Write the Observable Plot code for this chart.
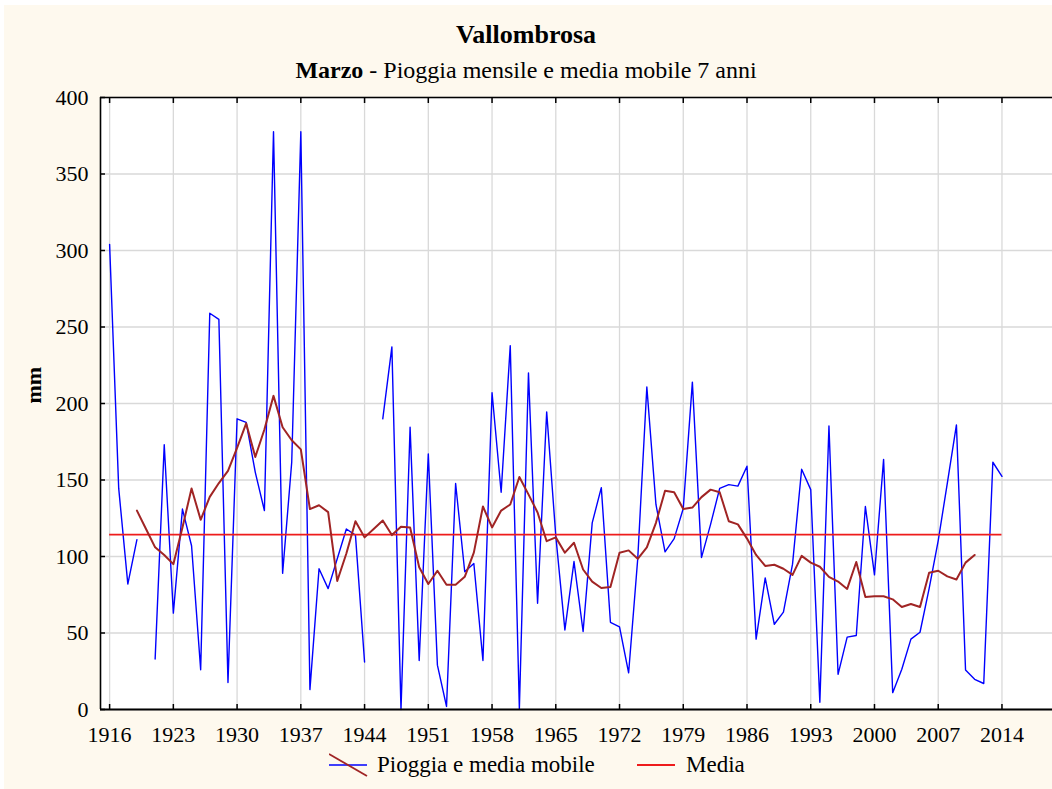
<!DOCTYPE html>
<html>
<head>
<meta charset="utf-8">
<script src="https://cdn.jsdelivr.net/npm/d3@7"></script>
<script src="https://cdn.jsdelivr.net/npm/@observablehq/plot@0.6"></script>
<style>
  body { margin: 0; background: #fff; }
  #wrap { position: relative; width: 1052px; height: 789px; background: #fff; overflow: hidden;
          font-family: "Liberation Serif", "Times New Roman", serif; color: #000; }
  #panel { position: absolute; left: 4px; top: 5px; width: 1048px; height: 784px; background: #fef9ee; }
  .t { position: absolute; left: 0; width: 1052px; text-align: center; white-space: nowrap; }
  #title { top: 22px; font-size: 26px; line-height: 26px; font-weight: bold; }
  #subtitle { top: 58px; font-size: 24px; line-height: 24px; }
  #chart { position: absolute; left: 0; top: 85px; }
  .lg { position: absolute; white-space: nowrap; font-size: 23px; line-height: 23px; top: 753px; }
  .sym { position: absolute; top: 753px; }
</style>
</head>
<body>
<div id="wrap">
  <div id="panel"></div>
  <div id="title" class="t">Vallombrosa</div>
  <div id="subtitle" class="t"><b>Marzo</b> - Pioggia mensile e media mobile 7 anni</div>
  <div id="chart"></div>
  <svg class="sym" style="left:329px" width="40" height="24">
    <line x1="0" y1="12" x2="38" y2="12" stroke="#0000ff" stroke-width="1.6"/>
    <line x1="0" y1="1" x2="38" y2="23" stroke="#a02424" stroke-width="1.8"/>
  </svg>
  <div class="lg" style="left:377px">Pioggia e media mobile</div>
  <svg class="sym" style="left:637px" width="40" height="24">
    <line x1="0" y1="12" x2="38" y2="12" stroke="#ee1c1c" stroke-width="1.8"/>
  </svg>
  <div class="lg" style="left:686px">Media</div>
</div>
<script>
// ---- data ----
const firstYear = 1916;
// March monthly rainfall (mm), 1916..2014 (null = missing year)
const rain = [
  304, 144.5, 82, 111, null, 33, 173, 63, 131, 107,
  26, 259, 255, 17.6, 190, 187.6, 155, 130, 377.6, 89,
  161.6, 377.6, 13, 92, 79, 98.5, 118, 114, 31, null,
  190, 237, 0, 184.5, 32, 167, 29, 2, 147.7, 90,
  95.4, 32, 207, 142, 237.8, 0.5, 220, 69.4, 194.5, 113.5,
  52, 96.7, 51, 122, 145, 57, 54, 24, 98.5, 210.8,
  134, 103, 111.7, 131.4, 214, 99.3, 121, 144.5, 147, 146,
  159, 46, 86, 55.7, 63.6, 95, 157, 143.7, 4.7, 185.3,
  23, 47.3, 48.4, 132.7, 88, 163.5, 11, 26.3, 46, 50.5,
  79, 110.4, 148, 186, 25.8, 19.7, 17, 161.6, 152.4
];
// 7-year moving average, 1919..2011
const maStart = 1919;
const movingAvg = [
  130, 118, 106, 101, 95, 119, 144.5, 124, 139, 148,
  156, 171, 187, 165, 183, 205, 184.5, 176, 170, 131,
  133.5, 129, 84, 102, 123, 112.5, 118, 123.5, 114, 119.5,
  119, 93, 82, 90.7, 81.5, 81.5, 86.7, 102.5, 132.7, 119,
  130, 134, 152, 140.6, 128.8, 110, 112.5, 102.5, 109, 91.5,
  83.6, 79.4, 80, 102.5, 104, 98.5, 106, 122, 143, 142,
  131, 132, 138.8, 143.7, 142, 123, 121, 111.7, 101, 93.8,
  94.6, 92, 88, 100.4, 96, 93.3, 86.7, 83.6, 78.8, 96.4,
  73.6, 74, 74, 72, 67, 69, 67, 89.4, 90.7, 87,
  85, 96, 101
];
const media = 114.3;
const mediaYears = [1916, 2014];
const xTicks = [1916, 1923, 1930, 1937, 1944, 1951, 1958, 1965, 1972, 1979, 1986, 1993, 2000, 2007, 2014];
const yTicks = [0, 50, 100, 150, 200, 250, 300, 350, 400];
const xDomain = [1915, 2019.55];
const yDomain = [0, 400];

const rainData = rain.map((v, i) => ({year: firstYear + i, value: v}));
const maData = movingAvg.map((v, i) => ({year: maStart + i, value: v}));

const gridStyle = {stroke: "#d9d9d9", strokeOpacity: 1, strokeWidth: 1.3};

const chart = Plot.plot({
  width: 1052,
  height: 665,
  marginLeft: 100,
  marginRight: 0,
  marginTop: 12,
  marginBottom: 41,
  style: {fontFamily: "Liberation Serif, Times New Roman, serif", fontSize: "22px", background: "transparent", overflow: "visible", color: "#000"},
  x: {domain: xDomain, axis: null},
  y: {domain: yDomain, axis: null},
  marks: [
    Plot.frame({fill: "white", stroke: null}),
    Plot.gridX(xTicks, gridStyle),
    Plot.gridY(yTicks, gridStyle),
    Plot.axisX(xTicks, {anchor: "bottom", tickSize: 0, tickPadding: 17, tickFormat: d => String(d), label: null}),
    Plot.axisX(xTicks, {anchor: "bottom", tickSize: -5, tickFormat: () => "", label: null, strokeWidth: 1.5}),
    Plot.axisX(xTicks, {anchor: "top", tickSize: -5, tickFormat: () => "", label: null, strokeWidth: 1.5}),
    Plot.axisY(yTicks, {anchor: "left", tickSize: 0, tickPadding: 12, tickFormat: d => String(d), label: null}),
    Plot.axisY(yTicks, {anchor: "left", tickSize: -5, tickFormat: () => "", label: null, strokeWidth: 1.5}),
    Plot.line(rainData, {x: "year", y: "value", stroke: "#0000ff", strokeWidth: 1.4}),
    Plot.ruleY([media], {x1: mediaYears[0], x2: mediaYears[1], stroke: "#ee1c1c", strokeWidth: 1.7}),
    Plot.line(maData, {x: "year", y: "value", stroke: "#a02424", strokeWidth: 2}),
    Plot.ruleY([yDomain[0]], {stroke: "#000", strokeWidth: 2}),
    Plot.ruleY([yDomain[1]], {stroke: "#000", strokeWidth: 1.6}),
    Plot.ruleX([xDomain[0]], {stroke: "#000", strokeWidth: 1.6}),
    Plot.text(["mm"], {frameAnchor: "left", dx: -67, rotate: -90, fontWeight: "bold", fontSize: 22})
  ]
});
document.getElementById("chart").appendChild(chart);
</script>
</body>
</html>
